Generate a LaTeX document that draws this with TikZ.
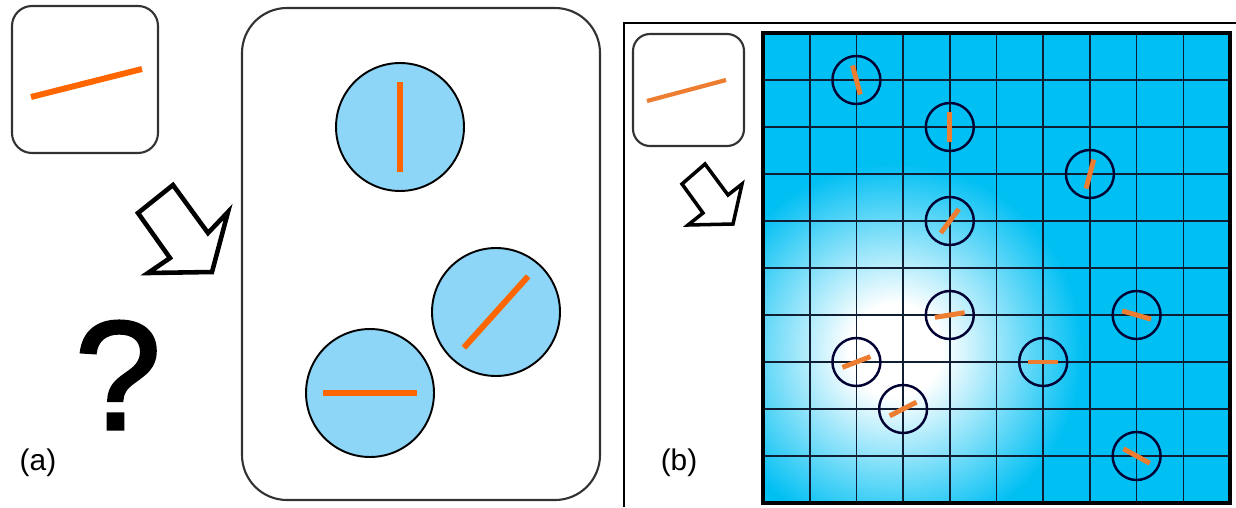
\documentclass[tikz,border=0pt]{standalone}
\usepackage{fontspec}
\setmainfont{Liberation Sans}
\newfontfamily\qmarkfont[FakeBold=2]{Liberation Sans}
\usetikzlibrary{positioning}
\definecolor{cellblue}{RGB}{0,191,243}
\definecolor{discblue}{RGB}{142,214,247}
\definecolor{rodorange}{RGB}{255,102,0}
\definecolor{needleorange}{RGB}{237,125,49}
\definecolor{gridline}{RGB}{15,30,50}
\definecolor{boxline}{RGB}{50,50,50}
\pgfdeclareradialshading{glow}{\pgfpointorigin}{color(0bp)=(white); color(6bp)=(white); color(24bp)=(cellblue); color(50bp)=(cellblue)}

\begin{document}
\begin{tikzpicture}[x=0.02cm, y=-0.02cm,
    card/.style={draw=boxline, line width=1.2pt, rounded corners=0.4cm},
    disc/.style={circle, draw=black, line width=1.1pt, fill=discblue, minimum size=2.56cm, inner sep=0pt},
    marker/.style={circle, draw=black!80!blue, line width=1.4pt, minimum size=0.96cm, inner sep=0pt},
    rod/.style={rodorange, line width=3.4pt},
    needle/.style={needleorange, line width=2.8pt},
    hollow/.style={draw=black, line width=2.6pt, line join=miter, fill=white},
    tag/.style={font=\fontsize{17}{20}\selectfont, inner sep=0pt}]
  \useasboundingbox (0,0) rectangle (1236,507);

  % (a) the single rod and the three discs
  \draw[card] (12,6) rectangle (158,153);
  \draw[rod] (31,97) -- (142,69);
  \draw[hollow] (173,185) -- (208,233) -- (228,212) -- (212,272) -- (148,273) -- (170,258) -- (138,213) -- cycle;
  \node[inner sep=0pt, font=\qmarkfont\fontsize{88}{90}\selectfont] (what) at (118,375) {?};
  \node[tag] (la) at (38,463) {(a)};
  \draw[card, rounded corners=0.9cm] (242,8) rectangle (600,500);
  \node[disc] (d1) at (400,127) {};
  \node[disc] (d2) at (496,312) {};
  \node[disc] (d3) at (370,393) {};
  \draw[rod] (d1.center) ++(90:45) -- ++(270:90);
  \draw[rod] (d2.center) ++(-48:48) -- ++(132:96);
  \draw[rod] (d3.center) ++(0:47) -- ++(180:94);

  % (b) the grid
  \draw[line width=0.9pt] (624,507) -- (624,23) -- (1236,23);
  \draw[card, rounded corners=0.34cm] (633,34) rectangle (744,146);
  \draw[needle, line width=2.4pt] (647,101) -- (726,80);
  \draw[hollow, line width=2pt] (705,164) -- (728,195) -- (742,184) -- (733,224) -- (688,225) -- (703,213) -- (682,184) -- cycle;
  \node[tag] (lb) at (679,463) {(b)};
  \begin{scope}
    \clip (763,33) rectangle (1230,503);
    \fill[cellblue] (763,33) rectangle (1230,503);
    \shade[shading=glow] (895,350) circle (195);
  \end{scope}
  \foreach \k in {1,...,9} {
    \draw[gridline, line width=0.9pt] (763+46.7*\k,33) -- (763+46.7*\k,503);
    \draw[gridline, line width=0.9pt] (763,33+47*\k) -- (1230,33+47*\k);
  }
  \draw[black, line width=2.2pt] (763,33) rectangle (1230,503);
  \foreach \i/\j/\a [count=\n] in {2/1/75, 4/2/90, 7/3/105, 4/4/127, 4/6/-9, 8/6/16, 2/7/-21, 6/7/0, 3/8/-27, 8/9/29} {
    \node[marker] (m\n) at (763+46.7*\i, 33+47*\j) {};
    \draw[needle] (m\n.center) ++(\a:15) -- ++(\a+180:30);
  }
\end{tikzpicture}
\end{document}
